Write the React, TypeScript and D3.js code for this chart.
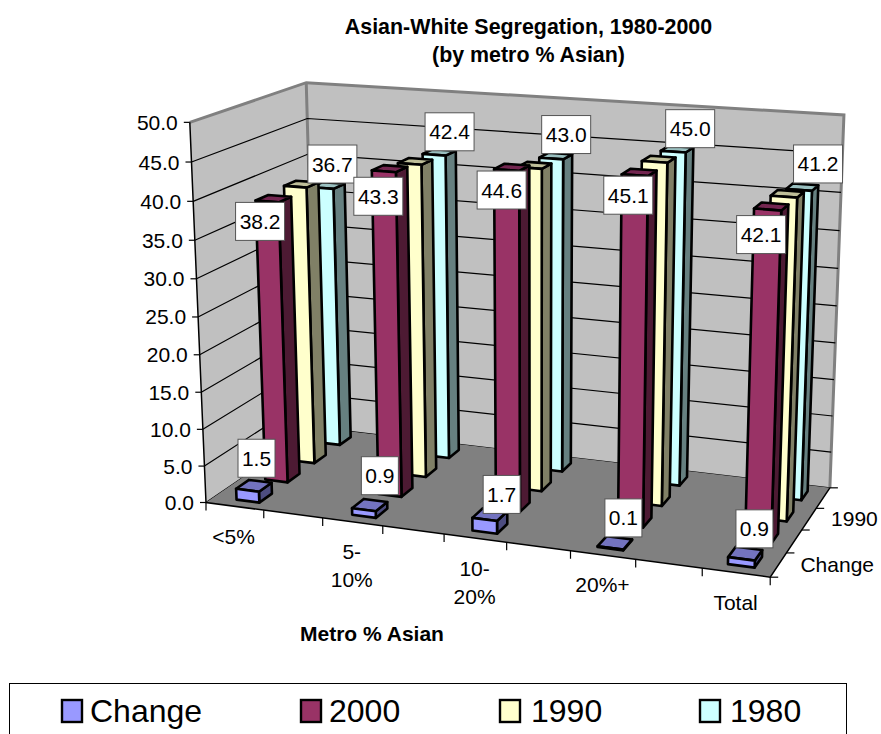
import React from "react";
import * as d3 from "d3";

// Chart content
const titleLines = ["Asian-White Segregation, 1980-2000", "(by metro % Asian)"];
const categories = ["<5%", "5-10%", "10-20%", "20%+", "Total"];
const categoryLines = [["<5%"], ["5-", "10%"], ["10-", "20%"], ["20%+"], ["Total"]];
const seriesNames = ["Change", "2000", "1990", "1980"];
const changeValues = [1.5, 0.9, 1.7, 0.1, 0.9];
const values2000 = [38.2, 43.3, 44.6, 45.1, 42.1];
const values1990 = [38.5, 42.7, 43.3, 45.2, 42.0];
const values1980 = [36.7, 42.4, 43.0, 45.0, 41.2];
const valueTicks = [0, 5, 10, 15, 20, 25, 30, 35, 40, 45, 50];
const depthTickLabels = ["Change", "", "1990", ""];
const seriesValues = [changeValues, values2000, values1990, values1980];

// Face colours per series: front, side, top
const faceColors = [
  ["#9999ff", "#4d4d80", "#7373bf"],
  ["#993366", "#4d1a33", "#732650"],
  ["#ffffcc", "#808066", "#bfbf99"],
  ["#ccffff", "#668080", "#99bfbf"],
];

// Data label placement relative to the top of each bar, by series then category
const labelNudges: ([number, number] | null)[][] = [
  [[9, -32], [16, -34], [17, -25], [13, -30], [13, -30]],
  [[-7, 20], [-5.5, 25], [-5, 20], [-6.5, 20], [-6.5, 25]],
  [null, null, null, null, null],
  [[10, -24], [15.5, -23], [15, -24], [17, -23], [19, -26]],
];

// Least-squares camera fit from known cube corners to page positions
type P3 = [number, number, number];
const cubeCorners: [P3, [number, number]][] = [
  [[0, 0, 0], [206, 503]],
  [[1, 0, 0], [770, 577]],
  [[1, 1, 0], [830, 488]],
  [[0, 1, 0], [316, 427]],
  [[0, 0, 1], [190, 122]],
  [[0, 1, 1], [306, 83]],
  [[1, 1, 1], [844, 115]],
];

function fitCamera(): number[] {
  const rows: number[][] = [];
  const rhs: number[] = [];
  for (const [[X, Y, Z], [u0, v0]] of cubeCorners) {
    const u = u0 / 1000;
    const v = v0 / 1000;
    rows.push([X, Y, Z, 1, 0, 0, 0, 0, -u * X, -u * Y, -u * Z]);
    rhs.push(u);
    rows.push([0, 0, 0, 0, X, Y, Z, 1, -v * X, -v * Y, -v * Z]);
    rhs.push(v);
  }
  const n = 11;
  const m: number[][] = d3.range(n).map((i) =>
    d3.range(n + 1).map((j) =>
      j < n ? d3.sum(rows, (r) => r[i] * r[j]) : d3.sum(rows, (r, k) => r[i] * rhs[k])
    )
  );
  for (let c = 0; c < n; c++) {
    let best = c;
    for (let r = c + 1; r < n; r++) if (Math.abs(m[r][c]) > Math.abs(m[best][c])) best = r;
    [m[c], m[best]] = [m[best], m[c]];
    for (let r = 0; r < n; r++) {
      if (r === c) continue;
      const f = m[r][c] / m[c][c];
      for (let k = c; k <= n; k++) m[r][k] -= f * m[c][k];
    }
  }
  return m.map((row, i) => row[n] / row[i]);
}

const cam = fitCamera();
function project(x: number, y: number, z: number): [number, number] {
  const w = cam[8] * x + cam[9] * y + cam[10] * z + 1;
  return [
    (1000 * (cam[0] * x + cam[1] * y + cam[2] * z + cam[3])) / w,
    (1000 * (cam[4] * x + cam[5] * y + cam[6] * z + cam[7])) / w,
  ];
}

// Scales from data space to the unit cube
const zScale = d3.scaleLinear().domain([0, 50]).range([0, 1]);
const xScale = d3.scaleBand<string>().domain(categories).range([-0.045, 1.055]).paddingInner(0.8).paddingOuter(0.4);
const yScale = d3.scaleBand<string>().domain(seriesNames).range([0, 1]).paddingInner(0.56).paddingOuter(0.28);

const polygon = d3.line();
const poly = (pts: [number, number][]) => polygon(pts) + "Z";
const FONT = "'Liberation Sans', Arial, sans-serif";

function Bar({ x0, x1, y0, y1, h, colors }: { x0: number; x1: number; y0: number; y1: number; h: number; colors: string[] }) {
  const common = { stroke: "#000", strokeWidth: 2.6, strokeLinejoin: "round" as const };
  return (
    <g>
      <path d={poly([project(x1, y0, 0), project(x1, y1, 0), project(x1, y1, h), project(x1, y0, h)])} fill={colors[1]} {...common} />
      <path d={poly([project(x0, y0, h), project(x1, y0, h), project(x1, y1, h), project(x0, y1, h)])} fill={colors[2]} {...common} />
      <path d={poly([project(x0, y0, 0), project(x1, y0, 0), project(x1, y0, h), project(x0, y0, h)])} fill={colors[0]} {...common} />
    </g>
  );
}

const legendX = [62, 301, 500, 700];
const legendTextX = [90, 329, 531, 730];
const legendFill = ["#9999ff", "#993366", "#ffffcc", "#ccffff"];

export default function App() {
  const A = project(0, 0, 0);
  const B = project(1, 0, 0);
  const C = project(1, 1, 0);
  const D = project(0, 1, 0);
  const E = project(0, 0, 1);
  const F = project(0, 1, 1);
  const G = project(1, 1, 1);
  const barWidth = xScale.bandwidth();
  const barDepth = yScale.bandwidth();

  return (
    <svg width={881} height={734} style={{ position: "absolute", left: 0, top: 0, background: "#fff" }} fontFamily={FONT} fill="#000">
      {titleLines.map((t, i) => (
        <text key={t} x={528.5} y={34 + i * 28} textAnchor="middle" fontSize={21.4} fontWeight="bold">{t}</text>
      ))}

      {/* Walls and floor */}
      <path d={poly([A, D, F, E])} fill="#c0c0c0" />
      <path d={poly([D, C, G, F])} fill="#c0c0c0" />
      <path d={polygon([E, F, G, C])!} fill="none" stroke="#808080" strokeWidth={3} />
      <path d={polygon([F, D])!} fill="none" stroke="#808080" strokeWidth={3} />
      {valueTicks.map((v) => {
        const z = zScale(v);
        if (v === 50) return null;
        return (
          <path key={v} d={polygon([project(0, 0, z), project(0, 1, z), project(1, 1, z)])!} fill="none" stroke="#000" strokeWidth={1.2} />
        );
      })}
      <path d={poly([A, B, C, D])} fill="#808080" />
      <path d={polygon([E, A, B, C])!} fill="none" stroke="#000" strokeWidth={1.5} />

      {/* Value axis */}
      {valueTicks.map((v) => {
        const [px, py] = project(0, 0, zScale(v));
        return (
          <g key={v}>
            <line x1={px - 6} x2={px} y1={py} y2={py} stroke="#000" strokeWidth={1.2} />
            <text x={px - 12} y={py + 7.5} textAnchor="end" fontSize={21}>{v.toFixed(1)}</text>
          </g>
        );
      })}

      {/* Category axis */}
      {d3.range(10).map((i) => {
        const [px, py] = project(i / 9, 0, 0);
        return <line key={i} x1={px} x2={px} y1={py} y2={py + 8} stroke="#000" strokeWidth={1.2} />;
      })}
      {categories.map((c, i) => {
        const [px, py] = project(xScale(c)! + barWidth / 2, 0, 0);
        return (
          <text key={c} textAnchor="middle" fontSize={21}>
            {categoryLines[i].map((t, k) => (
              <tspan key={t} x={px - 6 + i * 1.3} y={py + 37 + k * 28}>{t}</tspan>
            ))}
          </text>
        );
      })}

      {/* Depth axis */}
      {d3.range(5).map((i) => {
        const [px, py] = project(1, i / 4, 0);
        return <line key={i} x1={px} x2={px + 8} y1={py} y2={py} stroke="#000" strokeWidth={1.2} />;
      })}
      {depthTickLabels.map((t, i) => {
        if (!t) return null;
        const [px, py] = project(1, (i + 0.5) / 4, 0);
        return <text key={t} x={px + 22} y={py + 7} fontSize={21}>{t}</text>;
      })}

      {/* Bars, furthest series first */}
      {[3, 2, 1, 0].map((s) =>
        categories.map((c, i) => {
          const x0 = xScale(c)!;
          const y0 = yScale(seriesNames[s])!;
          return (
            <Bar key={s + c} x0={x0} x1={x0 + barWidth} y0={y0} y1={y0 + barDepth} h={zScale(seriesValues[s][i])} colors={faceColors[s]} />
          );
        })
      )}

      {/* Data labels */}
      {[3, 1, 0].map((s) =>
        categories.map((c, i) => {
          const nudge = labelNudges[s][i];
          if (!nudge) return null;
          const v = seriesValues[s][i];
          const [px, py] = project(xScale(c)! + barWidth / 2, yScale(seriesNames[s])!, zScale(v));
          const cx = px + nudge[0];
          const cy = py + nudge[1];
          const w = v < 10 ? 37 : 49;
          return (
            <g key={s + c}>
              <rect x={cx - w / 2} y={cy - 19} width={w} height={38} fill="#fff" stroke="#555" strokeWidth={1} />
              <text x={cx} y={cy + 7.5} textAnchor="middle" fontSize={21}>{v.toFixed(1)}</text>
            </g>
          );
        })
      )}

      <text x={372} y={641} textAnchor="middle" fontSize={21} fontWeight="bold">Metro % Asian</text>

      {/* Legend; its lower edge runs past the bottom of the page */}
      <rect x={9.5} y={683.5} width={837} height={70} fill="#fff" stroke="#000" strokeWidth={1} />
      {seriesNames.map((n, i) => (
        <g key={n}>
          <rect x={legendX[i]} y={700} width={20} height={22} fill={legendFill[i]} stroke="#000" strokeWidth={2.4} />
          <text x={legendTextX[i]} y={721.5} fontSize={32}>{n}</text>
        </g>
      ))}
    </svg>
  );
}
